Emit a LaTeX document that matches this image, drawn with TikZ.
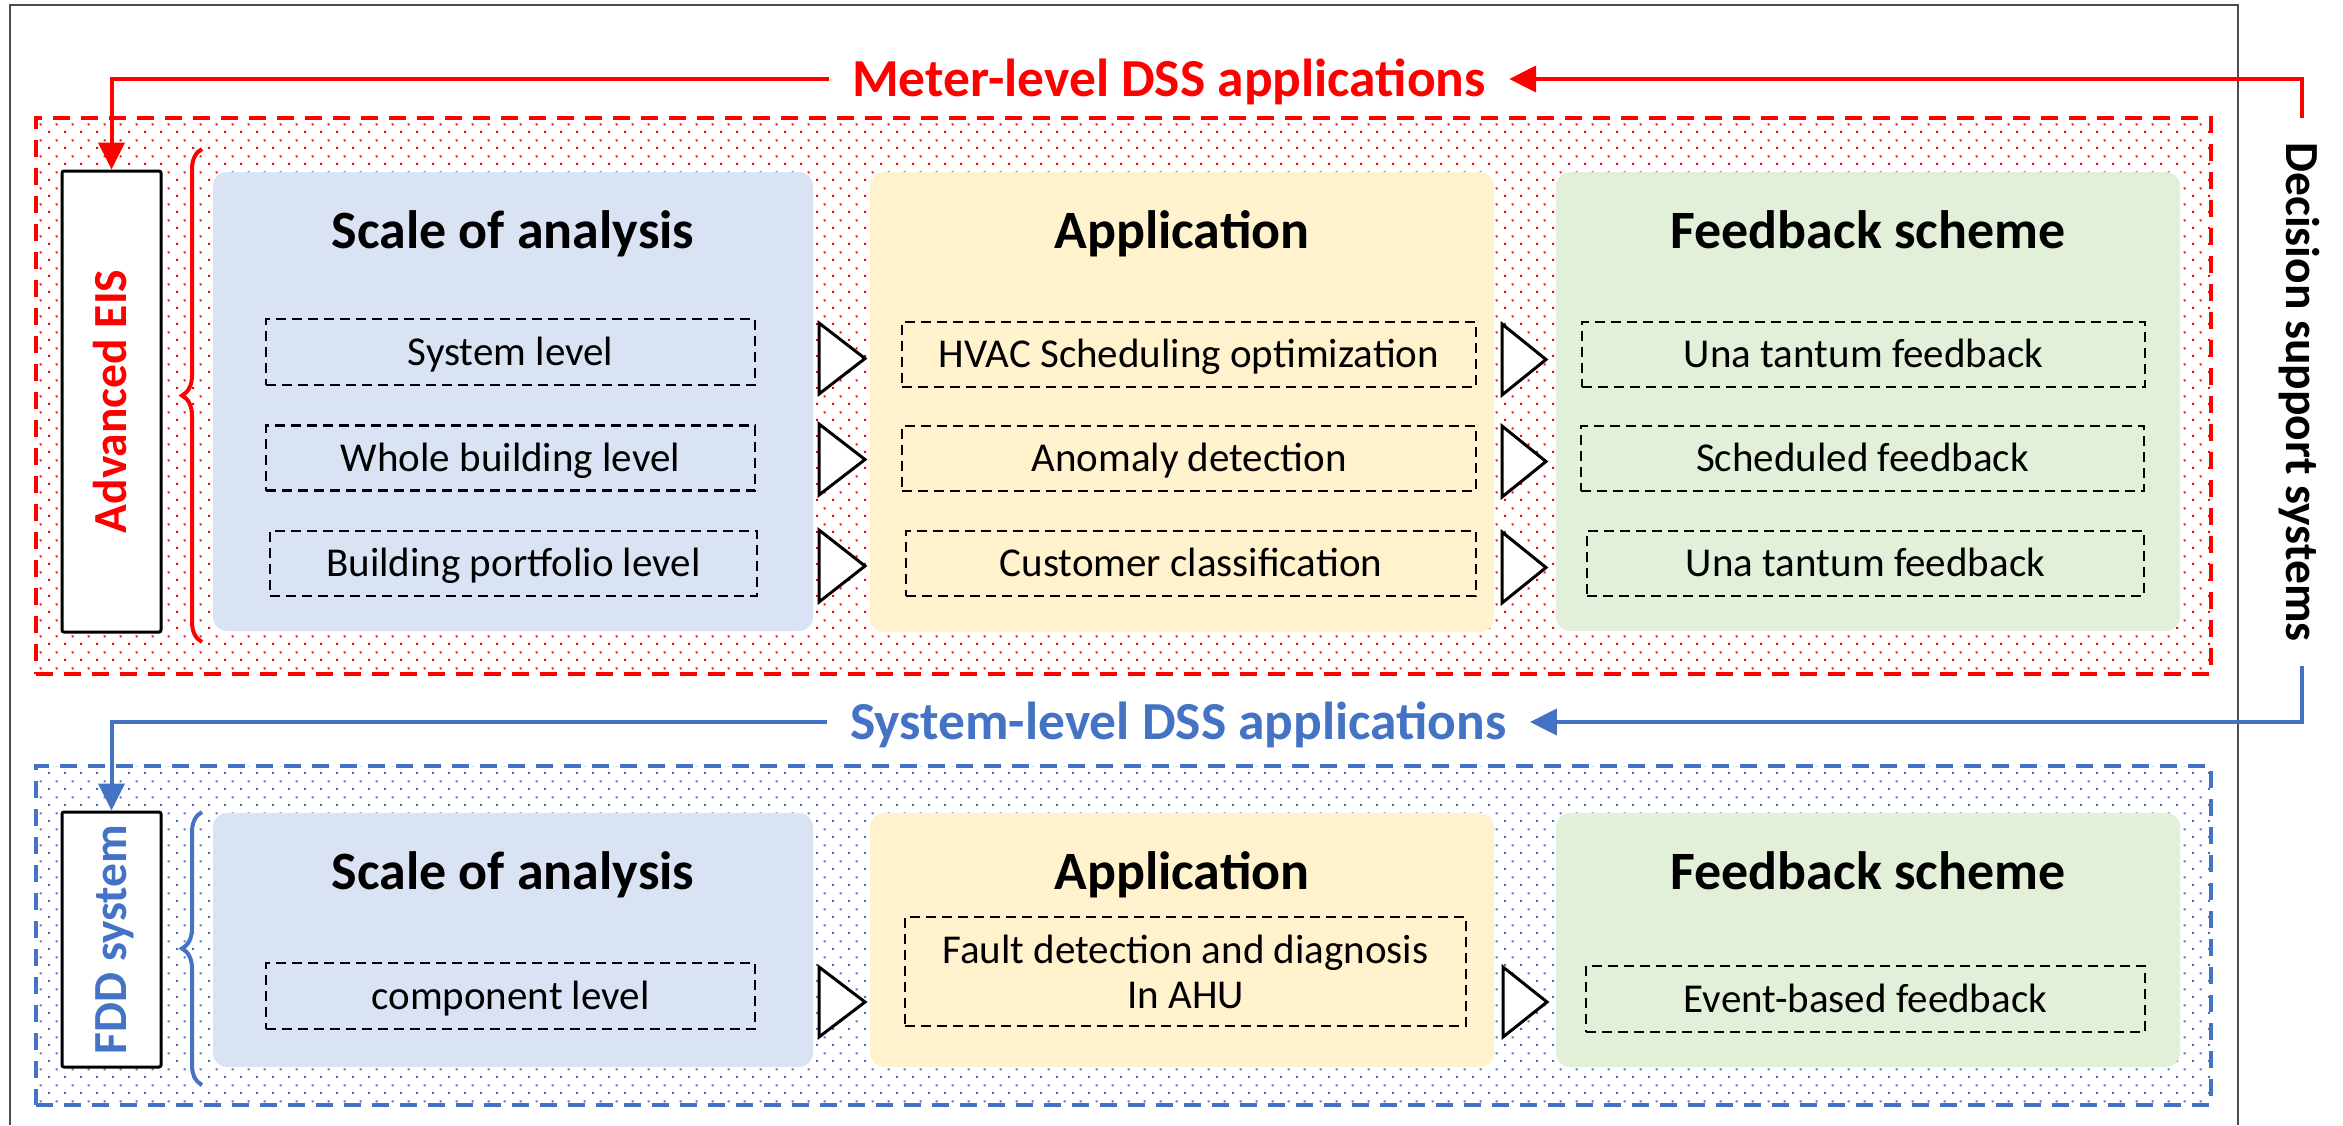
\documentclass[tikz,border=0pt]{standalone}
\usepackage{fontspec}
\setmainfont{Carlito}
\usetikzlibrary{arrows.meta,patterns.meta,decorations.pathreplacing}

\definecolor{mred}{HTML}{FF0000}
\definecolor{mblue}{HTML}{4472C4}
\definecolor{pblue}{HTML}{DAE3F3}
\definecolor{pyel}{HTML}{FFF2CC}
\definecolor{pgrn}{HTML}{E2F0D9}

\newcommand\hdrfont{\fontsize{53.5}{60}\selectfont\bfseries}
\newcommand\ttlfont{\fontsize{54}{60}\selectfont\bfseries}
\newcommand\itmfont{\fontsize{41}{45}\selectfont}
\newcommand\sidefont{\fontsize{47.5}{52}\selectfont\bfseries}

\tikzdeclarepattern{
  name=ppdots,
  type=uncolored,
  bottom left={(0pt,0pt)},
  top right={(16pt,16pt)},
  tile size={(16pt,16pt)},
  code={
    \pgfpathrectangle{\pgfpointorigin}{\pgfpoint{2.2pt}{2.2pt}}
    \pgfpathrectangle{\pgfpoint{8pt}{8pt}}{\pgfpoint{2.2pt}{2.2pt}}
    \pgfusepath{fill}
  }
}

\tikzset{
  outerbox/.style={line width=4.5pt, dash pattern=on 17pt off 11pt, inner sep=0pt},
  panel/.style={rounded corners=14pt, inner sep=0pt},
  itembox/.style={draw=black, line width=2.2pt, dash pattern=on 10pt off 6pt, inner sep=0pt, font=\itmfont},
  item/.style={itembox, text height=26.5pt, text depth=0pt},
  ttl/.style={font=\ttlfont, text height=35pt, text depth=0pt, inner sep=0pt},
  sidebox/.style={draw=black, line width=3pt, fill=white, rounded corners=2pt, inner sep=0pt, minimum width=99pt},
  sidetxt/.style={font=\sidefont, rotate=90, text height=30.5pt, text depth=0pt, inner sep=0pt},
  hdr/.style={font=\hdrfont, inner xsep=23pt, inner ysep=0pt, text height=34.5pt, text depth=0pt},
  tri/.style={draw=black, fill=white, line width=3pt, line join=miter},
  conn/.style={line width=4pt, -{Triangle[length=27pt,width=26pt]}},
  brc/.style={line width=4pt, decorate, decoration={brace, amplitude=20pt}}
}

\begin{document}
\begin{tikzpicture}[x=1pt,y=-1pt]
\useasboundingbox (0,0) rectangle (2343,1125);

% outer frame
\draw[line width=2pt, black!70] (10,1125) -- (10,5) -- (2238,5) -- (2238,1125);

% dashed group boxes
\node[outerbox, draw=mred, pattern=ppdots, pattern color=mred, minimum width=2175pt, minimum height=556pt] (redbox) at (1123.5,396) {};
\node[outerbox, draw=mblue, pattern=ppdots, pattern color=mblue, minimum width=2175pt, minimum height=339pt] (bluebox) at (1123.5,935.5) {};

% ---------- top section ----------
\node[panel, fill=pblue, minimum width=600pt, minimum height=459pt] (p1) at (513,401.5) {};
\node[panel, fill=pyel, minimum width=624pt, minimum height=460pt] (p2) at (1182,402) {};
\node[panel, fill=pgrn, minimum width=624pt, minimum height=459pt] (p3) at (1868,401.5) {};

\node[ttl] (t1) at (513,231) {Scale of analysis};
\node[ttl] (t2) at (1182,231) {Application};
\node[ttl] (t3) at (1868,231) {Feedback scheme};

\node[item, minimum width=489pt, minimum height=66pt] (a1) at (510.5,352) {System level};
\node[item, minimum width=489pt, minimum height=65pt] (a2) at (510.5,458) {Whole building level};
\node[item, minimum width=487pt, minimum height=65pt] (a3) at (513.5,563.5) {Building portfolio level};

\node[item, minimum width=574pt, minimum height=65pt] (b1) at (1189,354.5) {HVAC Scheduling optimization};
\node[item, minimum width=574pt, minimum height=65pt] (b2) at (1189,458.5) {Anomaly detection};
\node[item, minimum width=570pt, minimum height=65pt] (b3) at (1191,563.5) {Customer classification};

\node[item, minimum width=563pt, minimum height=65pt] (c1) at (1863.5,354.5) {Una tantum feedback};
\node[item, minimum width=563pt, minimum height=65pt] (c2) at (1862.5,458.5) {Scheduled feedback};
\node[item, minimum width=557pt, minimum height=65pt] (c3) at (1865.5,563.5) {Una tantum feedback};

\draw[tri] (819,323) -- (865,358.5) -- (819,394) -- cycle;
\draw[tri] (819,424) -- (865,459.5) -- (819,495) -- cycle;
\draw[tri] (819,530) -- (865,566) -- (819,602) -- cycle;
\draw[tri] (1502,324) -- (1546,359.5) -- (1502,395) -- cycle;
\draw[tri] (1502,426) -- (1546,461.5) -- (1502,497) -- cycle;
\draw[tri] (1502,532) -- (1546,567.5) -- (1502,603) -- cycle;

\node[sidebox, minimum height=461pt] (eis) at (111.5,401.5) {};
\node[sidetxt, text=mred] (eistxt) at (eis.center) {Advanced EIS};
\draw[brc, mred] (202,642) -- (202,149);

% ---------- bottom section ----------
\node[panel, fill=pblue, minimum width=600pt, minimum height=254pt] (q1) at (513,940) {};
\node[panel, fill=pyel, minimum width=624pt, minimum height=254pt] (q2) at (1182,940) {};
\node[panel, fill=pgrn, minimum width=624pt, minimum height=254pt] (q3) at (1868,940) {};

\node[ttl] (u1) at (513,872) {Scale of analysis};
\node[ttl] (u2) at (1182,872) {Application};
\node[ttl] (u3) at (1868,872) {Feedback scheme};

\node[item, minimum width=489pt, minimum height=66pt] (d1) at (510.5,996) {component level};
\node[itembox, align=center, minimum width=561pt, minimum height=109pt] (e1) at (1185.5,971.5) {Fault detection and diagnosis\\In AHU};
\node[item, minimum width=559pt, minimum height=66pt] (f1) at (1865.5,999) {Event-based feedback};

\draw[tri] (819,967) -- (865,1002) -- (819,1037) -- cycle;
\draw[tri] (1503,967) -- (1547,1002) -- (1503,1037) -- cycle;

\node[sidebox, minimum height=255pt] (fdd) at (111.5,939.5) {};
\node[sidetxt, text=mblue] (fddtxt) at (fdd.center) {FDD system};
\draw[brc, mblue] (202,1085) -- (202,812);

% ---------- headers and connectors ----------
\node[hdr, text=mred] (meter) at (1169,79) {Meter-level DSS applications};
\node[hdr, text=mblue] (sys) at (1178.5,722) {System-level DSS applications};
\node[font=\sidefont, rotate=-90, inner xsep=24pt, inner ysep=0pt, text height=30.5pt, text depth=0pt] (dss) at (2302,392) {Decision support systems};

\draw[conn, mred] (meter.west) -| (eis.north);
\draw[conn, mred] (dss.west) |- (meter.east);
\draw[conn, mblue] (sys.west) -| (fdd.north);
\draw[conn, mblue] (dss.east) |- (sys.east);
\end{tikzpicture}
\end{document}
